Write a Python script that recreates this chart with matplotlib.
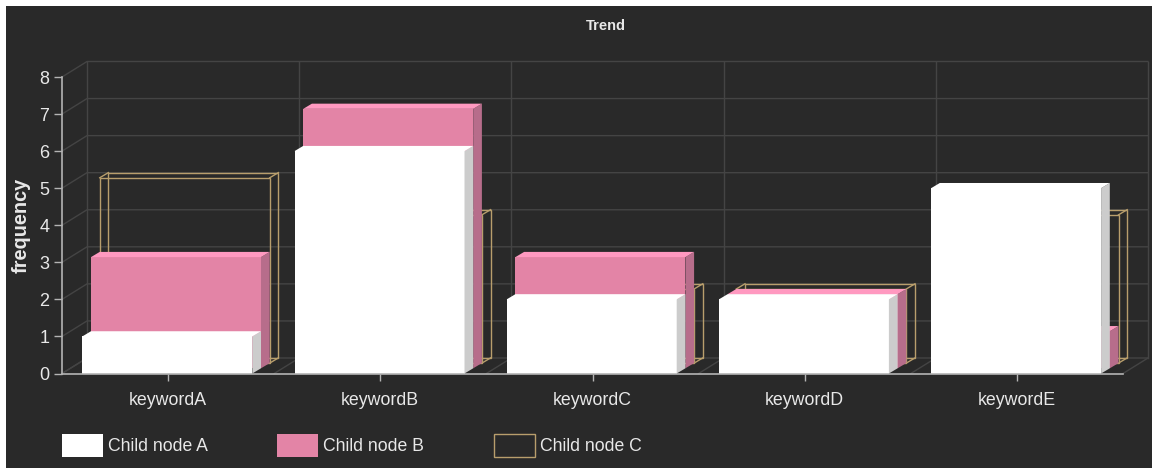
import matplotlib
matplotlib.use('Agg')
import matplotlib.pyplot as plt
from matplotlib.patches import Polygon, Rectangle, Patch

plt.rcParams['font.family'] = ['Liberation Sans', 'DejaVu Sans']

categories = ['keywordA', 'keywordB', 'keywordC', 'keywordD', 'keywordE']
node_a = [1, 6, 2, 2, 5]
node_b = [3, 7, 3, 2, 1]
node_c = [5, 4, 2, 2, 4]

W, H = 1152, 468
BG = '#292929'
GRID = '#444444'
AXIS = '#b4b4b4'
TEXT = '#e8e8e8'
GOLD = '#b89e6c'

# plot area size in pixels, used to turn depth offsets into data units
left, right, bottom, top = 62, 1123, 373.5, 77
ux = (right - left) / len(categories)
uy = (bottom - top) / 8

fig = plt.figure(figsize=(W / 100, H / 100), dpi=100, facecolor='white')
fig.patches.append(Rectangle((6 / W, 0), 1, (H - 6) / H, transform=fig.transFigure,
                             facecolor=BG, edgecolor='none', zorder=-5))
ax = fig.add_axes([left / W, 1 - bottom / H, (right - left) / W, (bottom - top) / H])
ax.patch.set_visible(False)
ax.set_xlim(0, len(categories))
ax.set_ylim(0, 8)

# depth of the back wall and of one bar
wall_dx, wall_dy = 25 / ux, 15.5 / uy
bar_dx, bar_dy = 8.7 / ux, 5.2 / uy
bar_w = 170 / ux
bar_gap = 20.3 / ux

# back wall and floor
for v in range(9):
    ax.plot([0, wall_dx, len(categories) + wall_dx], [v, v + wall_dy, v + wall_dy],
            color=GRID, lw=1, zorder=1, clip_on=False)
for i in range(len(categories) + 1):
    ax.plot([i + wall_dx, i + wall_dx], [wall_dy, 8 + wall_dy], color=GRID, lw=1, zorder=1, clip_on=False)
    ax.plot([i, i + wall_dx], [0, wall_dy], color=GRID, lw=1, zorder=1, clip_on=False)


def solid_bar(x, base, v, front, side, topc, z):
    t = base + v
    ax.add_patch(Rectangle((x, base), bar_w, v, facecolor=front, edgecolor='none', zorder=z, clip_on=False))
    ax.add_patch(Polygon([(x + bar_w, base), (x + bar_w + bar_dx, base + bar_dy),
                          (x + bar_w + bar_dx, t + bar_dy), (x + bar_w, t)],
                         facecolor=side, edgecolor='none', zorder=z, clip_on=False))
    ax.add_patch(Polygon([(x, t), (x + bar_dx, t + bar_dy), (x + bar_w + bar_dx, t + bar_dy), (x + bar_w, t)],
                         facecolor=topc, edgecolor='none', zorder=z, clip_on=False))


def wire_bar(x, base, v, z):
    # outline only, so the back edges stay visible through it
    for ox, oy in [(0, 0), (bar_dx, bar_dy)]:
        ax.add_patch(Rectangle((x + ox, base + oy), bar_w, v, fill=False, edgecolor=GOLD, lw=1,
                               zorder=z, clip_on=False))
    for cx in [x, x + bar_w]:
        for cy in [base, base + v]:
            ax.plot([cx, cx + bar_dx], [cy, cy + bar_dy], color=GOLD, lw=1, zorder=z, clip_on=False)


# each series stands one bar depth behind the previous one
for i in range(len(categories)):
    x = i + bar_gap
    wire_bar(x + 2 * bar_dx, 2 * bar_dy, node_c[i], 2)
    solid_bar(x + bar_dx, bar_dy, node_b[i], '#e384a6', '#b76d8b', '#ff99c0', 3)
    solid_bar(x, 0, node_a[i], '#ffffff', '#cccccc', '#ffffff', 4)

ax.set_xticks([i + 0.5 for i in range(len(categories))])
ax.set_xticklabels(categories)
ax.set_yticks(range(9))
ax.tick_params(axis='x', colors=AXIS, labelcolor=TEXT, labelsize=12.8, length=5, pad=8, width=1)
ax.tick_params(axis='y', colors=AXIS, labelcolor=TEXT, labelsize=13, length=6, pad=3, width=1)
for s in ['top', 'right']:
    ax.spines[s].set_visible(False)
for s in ['left', 'bottom']:
    ax.spines[s].set_color(AXIS)
    ax.spines[s].set_linewidth(1.2)
    ax.spines[s].set_zorder(5)

ax.set_ylabel('frequency', color=TEXT, fontsize=14.3, fontweight='bold')
ax.yaxis.set_label_coords((31 - left) / (right - left), 0.5)

fig.text(605.5 / W, 1 - 26.5 / H, 'Trend', color=TEXT, fontsize=10.5, fontweight='bold', ha='center', va='center')

handles = [Patch(facecolor='#ffffff', edgecolor='none', label='Child node A'),
           Patch(facecolor='#e384a6', edgecolor='none', label='Child node B'),
           Patch(facecolor='none', edgecolor=GOLD, lw=1, label='Child node C')]
fig.legend(handles=handles, loc='lower left', bbox_to_anchor=(61.5 / W, 1 - 457 / H), ncol=3, frameon=False,
           fontsize=12.7, labelcolor=TEXT, handlelength=2.33, handleheight=1.62, handletextpad=0.28,
           columnspacing=3.95, borderpad=0, borderaxespad=0)

fig.savefig('out.png', dpi=100, facecolor=fig.get_facecolor())
